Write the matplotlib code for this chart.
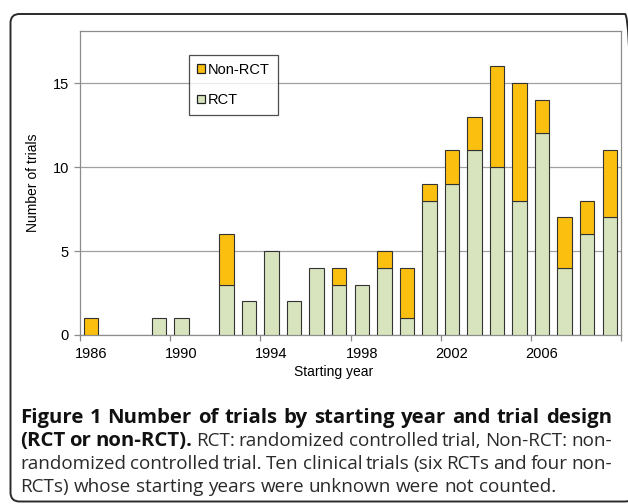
import matplotlib
matplotlib.use("Agg")
import matplotlib.pyplot as plt
from matplotlib.patches import FancyBboxPatch, Patch
from matplotlib.ticker import FixedLocator, NullFormatter

years = list(range(1986, 2010))
rct = [0, 0, 0, 1, 1, 0, 3, 2, 5, 2, 4, 3, 3, 4, 1, 8, 9, 11, 10, 8, 12, 4, 6, 7]
non_rct = [1, 0, 0, 0, 0, 0, 3, 0, 0, 0, 0, 1, 0, 1, 3, 1, 2, 2, 6, 7, 2, 3, 2, 4]
year_labels = [1986, 1990, 1994, 1998, 2002, 2006]
y_ticks = [0, 5, 10, 15]

W, H = 628, 504
fig = plt.figure(figsize=(W / 100, H / 100), dpi=100)

# rounded frame around the figure (inch coordinates)
frame = FancyBboxPatch((0.105, 0.025), 6.235, 4.875,
                       boxstyle="round,pad=0,rounding_size=0.09",
                       transform=fig.dpi_scale_trans, fill=False,
                       edgecolor="#2a2a2a", linewidth=1.4)
fig.patches.append(frame)

ax = fig.add_axes([80 / W, (H - 335) / H, 541 / W, (335 - 31) / H])
green = "#D7E4BD"
orange = "#FBBF10"
edge = "#333333"
b1 = ax.bar(years, rct, width=0.64, color=green, edgecolor=edge, linewidth=0.8, zorder=3)
b2 = ax.bar(years, non_rct, width=0.64, bottom=rct, color=orange, edgecolor=edge,
            linewidth=0.8, zorder=3)
for r, v in zip(b1, rct):
    if v == 0:
        r.set_visible(False)
for r, v in zip(b2, non_rct):
    if v == 0:
        r.set_visible(False)

ax.set_xlim(1985.5, 2009.5)
ax.set_ylim(0, 18.1)
ax.set_yticks(y_ticks)
ax.yaxis.grid(True, color="#A0A0A0", linewidth=0.9, zorder=0)
ax.set_axisbelow(True)
for s in ax.spines.values():
    s.set_color("#8C8C8C")
    s.set_linewidth(0.9)
ax.set_xticks(year_labels)
ax.tick_params(axis="x", which="major", length=0, pad=9, labelsize=10.5)
ax.xaxis.set_minor_locator(FixedLocator([1985.5 + 4 * i for i in range(7)]))
ax.xaxis.set_minor_formatter(NullFormatter())
ax.tick_params(axis="x", which="minor", length=4, color="#8C8C8C", width=0.9)
ax.tick_params(axis="y", length=4, color="#8C8C8C", width=0.9, labelsize=10.5, pad=4)
for lab in ax.get_xticklabels() + ax.get_yticklabels():
    lab.set_fontfamily("Liberation Sans")
ax.set_xlabel("Starting year", fontsize=10, family="Liberation Sans")
ax.xaxis.set_label_coords((334 - 80) / 541, -(372 - 335) / 304)
ax.xaxis.label.set_va("center")
ax.set_ylabel("Number of trials", fontsize=10, family="Liberation Sans")
ax.yaxis.set_label_coords(-(80 - 33) / 541, 0.5)
ax.yaxis.label.set_va("center")

handles = [Patch(facecolor=orange, edgecolor="#222222", linewidth=0.9),
           Patch(facecolor=green, edgecolor="#222222", linewidth=0.9)]
leg = ax.legend(handles, ["Non-RCT", "RCT"], loc="upper left",
                bbox_to_anchor=((189 - 80) / 541, (335 - 55) / 304),
                frameon=True, fancybox=False, handlelength=0.55, handleheight=0.55,
                handletextpad=0.2, labelspacing=1.1, borderpad=0.55, borderaxespad=0,
                prop={"family": "Liberation Sans", "size": 10.5})
leg.get_frame().set_edgecolor("#222222")
leg.get_frame().set_linewidth(0.9)

# justified caption
fig.canvas.draw()
renderer = fig.canvas.get_renderer()
cap_font = "Open Sans"


def measure(s, size, bold):
    t = fig.text(0, 0, s, fontsize=size, family=cap_font,
                 weight="bold" if bold else "normal")
    w = t.get_window_extent(renderer).width
    t.remove()
    return w


line1 = "Figure 1 Number of trials by starting year and trial design"
line4 = "RCTs) whose starting years were unknown were not counted."
bold_size = 12 * 584 / measure(line1, 12, True)
reg_size = 12 * 532 / measure(line4, 12, False)


def place_line(words, y, x0, x1, justify=True):
    texts = []
    widths = []
    for w, bold in words:
        t = fig.text(0, y / H, w, fontsize=bold_size if bold else reg_size,
                     family=cap_font, weight="bold" if bold else "normal",
                     va="baseline", ha="left",
                     color="#111111" if bold else "#2a2a2a")
        bb = t.get_window_extent(renderer)
        texts.append(t)
        widths.append(bb.width)
    if justify and len(words) > 1:
        gap = (x1 - x0 - sum(widths)) / (len(words) - 1)
    else:
        gap = renderer.points_to_pixels(reg_size) * 0.26
    x = x0
    for t, w in zip(texts, widths):
        t.set_x(x / W)
        x += w + gap


def words_of(s, bold):
    return [(w, bold) for w in s.split()]


y0 = H - 423
dy = 23
place_line(words_of(line1, True), y0, 20, 612)
place_line(words_of("(RCT or non-RCT).", True)
           + words_of("RCT: randomized controlled trial, Non-RCT: non-", False),
           y0 - dy, 20, 612)
place_line(words_of("randomized controlled trial. Ten clinical trials (six RCTs and four non-", False),
           y0 - 2 * dy, 20, 612)
place_line(words_of(line4, False), y0 - 3 * dy, 20, 612, justify=False)

fig.savefig("out.png", dpi=100)
